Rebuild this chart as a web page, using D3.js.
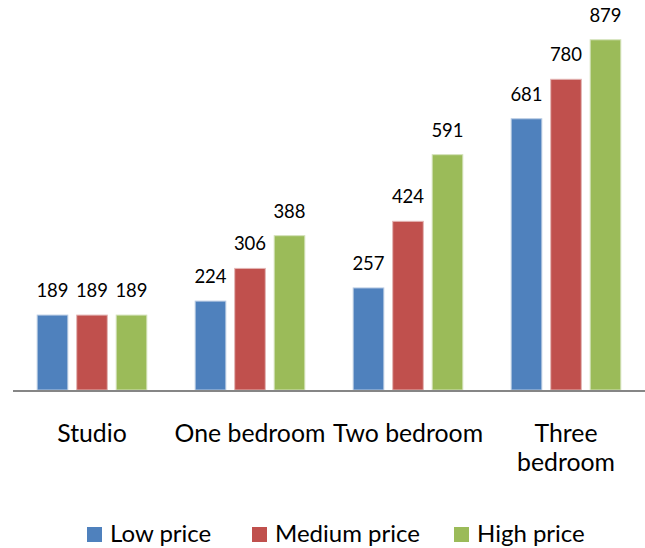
<!DOCTYPE html>
<html>
<head>
<meta charset="utf-8">
<script src="https://cdn.jsdelivr.net/npm/d3@7"></script>
<style>
  html, body { margin: 0; padding: 0; background: #fff; }
  svg { display: block; font-family: Lato, "Open Sans", sans-serif; }
</style>
</head>
<body>
<svg id="chart" width="645" height="548"></svg>
<script>
// Apartment types and the three price tiers
const categories = ["Studio", "One bedroom", "Two bedroom", "Three bedroom"];
const categoryLines = [["Studio"], ["One bedroom"], ["Two bedroom"], ["Three", "bedroom"]];
const series = ["Low price", "Medium price", "High price"];
const lowPrice = [189, 224, 257, 681];
const mediumPrice = [189, 306, 424, 780];
const highPrice = [189, 388, 591, 879];
const colors = ["#4F81BD", "#C0504D", "#9BBB59"];
const edgeColors = ["#B7C9E2", "#E3B5B4", "#D3E2BA"];

const seriesValues = [lowPrice, mediumPrice, highPrice];
const rows = categories.map((c, i) => ({
  category: c,
  values: series.map((s, j) => ({ series: s, index: j, value: seriesValues[j][i] }))
}));

const svg = d3.select("#chart");
const plot = { left: 13, right: 645, top: -9, bottom: 390 };

const x = d3.scaleBand().domain(categories).range([plot.left, plot.right]).padding(0);
const xInner = d3.scaleBand().domain(series).range([0, x.bandwidth()])
  .paddingInner(0.2).paddingOuter(0.6);
const y = d3.scaleLinear().domain([0, 1000]).range([plot.bottom, plot.top]);

// Bars
const groups = svg.append("g").selectAll("g").data(rows).join("g")
  .attr("transform", d => `translate(${x(d.category)},0)`);

groups.selectAll("rect").data(d => d.values).join("rect")
  .attr("x", d => xInner(d.series) + 0.5)
  .attr("y", d => y(d.value) + 0.5)
  .attr("width", xInner.bandwidth() - 1)
  .attr("height", d => y(0) - y(d.value) - 0.5)
  .attr("fill", d => colors[d.index])
  .attr("stroke", d => edgeColors[d.index])
  .attr("stroke-width", 1);

// Value labels above each bar
groups.selectAll("text").data(d => d.values).join("text")
  .attr("x", d => xInner(d.series) + xInner.bandwidth() / 2)
  .attr("y", d => y(d.value) - 17.5)
  .attr("text-anchor", "middle")
  .attr("font-size", 18.5)
  .attr("fill", "#000")
  .text(d => d.value);

// Category axis
const xAxis = svg.append("g")
  .attr("transform", `translate(0,${plot.bottom})`)
  .call(d3.axisBottom(x).tickSize(0).tickFormat(""));
xAxis.select(".domain")
  .attr("stroke", "#868686")
  .attr("stroke-width", 2)
  .attr("d", `M${plot.left},1H${plot.right}`);

const catLabels = svg.append("g").selectAll("text").data(categories).join("text")
  .attr("x", d => x(d) + x.bandwidth() / 2)
  .attr("y", 441.5)
  .attr("text-anchor", "middle")
  .attr("font-size", 24.8)
  .attr("fill", "#000");
catLabels.each(function (d, i) {
  d3.select(this).selectAll("tspan").data(categoryLines[i]).join("tspan")
    .attr("x", x(d) + x.bandwidth() / 2)
    .attr("dy", (l, k) => k === 0 ? 0 : 29)
    .text(l => l);
});

// Legend
const legendX = [87, 252, 454];
const legend = svg.append("g").selectAll("g").data(series).join("g")
  .attr("transform", (d, i) => `translate(${legendX[i]},527)`);
legend.append("rect")
  .attr("width", 15).attr("height", 15)
  .attr("fill", (d, i) => colors[i]);
legend.append("text")
  .attr("x", 23).attr("y", 15)
  .attr("font-size", 24)
  .attr("fill", "#000")
  .text(d => d);
</script>
</body>
</html>
